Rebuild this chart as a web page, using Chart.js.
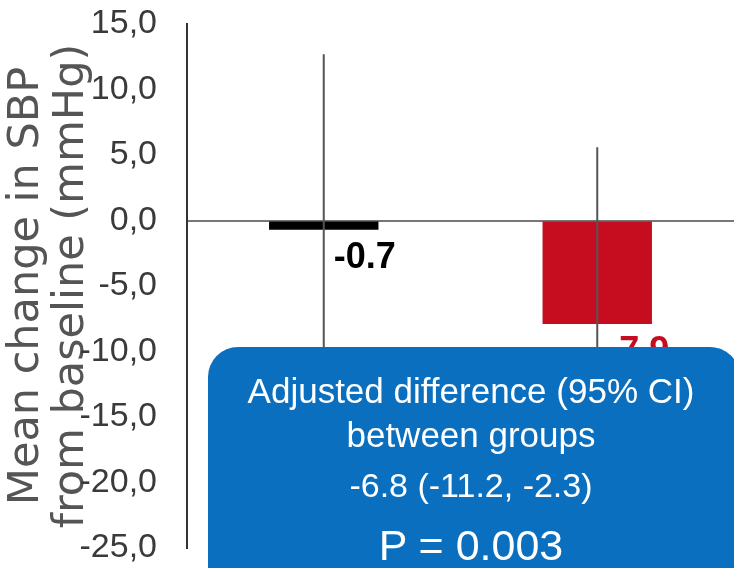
<!DOCTYPE html>
<html>
<head>
<meta charset="utf-8">
<script src="https://cdn.jsdelivr.net/npm/chart.js@4.4.1/dist/chart.umd.min.js"></script>
<style>
  body { margin: 0; background: #fff; }
  #wrap { position: relative; width: 734px; height: 568px; overflow: hidden; }
  #box {
    position: absolute; left: 208px; top: 347px; width: 532px; height: 260px;
    background: #0b6fbf; border-radius: 30px; color: #fff;
    font-family: "Liberation Sans", Arial, sans-serif; text-align: center;
  }
  #box div { position: absolute; left: 0; right: 6px; white-space: nowrap; }
</style>
</head>
<body>
<div id="wrap">
  <canvas id="barChart" width="734" height="568"></canvas>
  <div id="box">
    <div style="top:24px;font-size:35px;">Adjusted difference (95% CI)</div>
    <div style="top:68px;font-size:35px;">between groups</div>
    <div style="top:119px;font-size:34px;">-6.8 (-11.2, -2.3)</div>
    <div style="top:174px;font-size:43px;">P = 0.003</div>
  </div>
</div>
<script>
// data
var groups = ['Control', 'Intervention'];
var meanChange = [-0.7, -7.9];
var errHigh = [12.7, 5.6];
var errLow = [-14.1, -21.4];
var barColors = ['#000000', '#c50d1f'];
var yTicks = [15, 10, 5, 0, -5, -10, -15, -20, -25];
var yTickLabels = ['15,0', '10,0', '5,0', '0,0', '-5,0', '-10,0', '-15,0', '-20,0', '-25,0'];
var yTitle = ['Mean change in SBP', 'from baseline (mmHg)'];

// narrow font for the tick labels if the machine has it
function hasFont(name) {
    var c = document.createElement('canvas').getContext('2d');
    c.font = '40px monospace';
    var a = c.measureText('15,0 mmHg').width;
    c.font = '40px "' + name + '", monospace';
    return c.measureText('15,0 mmHg').width !== a;
}
var tickFont = hasFont('Liberation Sans Narrow')
    ? { family: '"Liberation Sans Narrow"', size: 39 }
    : { family: '"Liberation Sans"', size: 34 };

// error bars + value labels
var extras = {
    id: 'extras',
    afterDatasetsDraw: function(chart) {
        var ctx = chart.ctx;
        var y = chart.scales.y;
        var meta = chart.getDatasetMeta(0);
        ctx.save();
        for (var i = 0; i < meta.data.length; i++) {
            var x = meta.data[i].x;
            ctx.strokeStyle = '#555';
            ctx.lineWidth = 2;
            ctx.beginPath();
            ctx.moveTo(x, y.getPixelForValue(errHigh[i]));
            ctx.lineTo(x, y.getPixelForValue(errLow[i]));
            ctx.stroke();

            ctx.fillStyle = barColors[i];
            ctx.font = 'bold 36px "Liberation Sans", Arial, sans-serif';
            ctx.textAlign = 'left';
            ctx.textBaseline = 'alphabetic';
            ctx.fillText(meanChange[i].toFixed(1), x + 10, y.getPixelForValue(meanChange[i]) + 38);
        }
        ctx.restore();
    }
};

var ctx = document.getElementById('barChart').getContext('2d');
var barChart = new Chart(ctx, {
    type: 'bar',
    data: {
        labels: groups,
        datasets: [{
            data: meanChange,
            backgroundColor: barColors,
            borderWidth: 0,
            barPercentage: 0.4,
            categoryPercentage: 1
        }]
    },
    options: {
        responsive: false,
        animation: false,
        layout: { padding: { top: 24, bottom: 20, left: 0, right: 0 } },
        plugins: { legend: { display: false }, tooltip: { enabled: false } },
        scales: {
            x: { display: false },
            y: {
                min: -25,
                max: 15,
                afterBuildTicks: function(scale) {
                    scale.ticks = yTicks.map(function(v) { return { value: v }; });
                },
                afterFit: function(scale) {
                    scale.width = 187;
                    scale.paddingTop = 0;
                    scale.paddingBottom = 0;
                },
                border: { display: true, color: '#333', width: 2 },
                grid: {
                    drawTicks: false,
                    lineWidth: 2,
                    color: function(c) { return c.tick && c.tick.value === 0 ? '#777' : 'rgba(0,0,0,0)'; }
                },
                ticks: {
                    padding: 30,
                    color: '#3a3a3a',
                    font: tickFont,
                    callback: function(value) { return yTickLabels[yTicks.indexOf(value)]; }
                },
                title: {
                    display: true,
                    text: yTitle,
                    color: '#555',
                    padding: { top: 4, bottom: 0 },
                    font: { family: '"DejaVu Sans"', size: 43, lineHeight: 1.05 }
                }
            }
        }
    },
    plugins: [extras]
});
</script>
</body>
</html>
